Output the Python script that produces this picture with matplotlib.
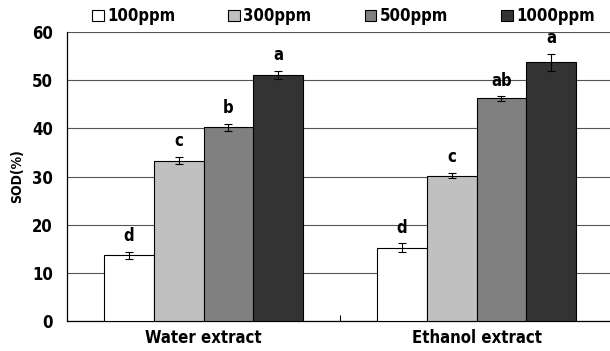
import numpy as np
import matplotlib.pyplot as plt
from matplotlib.ticker import FixedLocator

plt.rcParams['font.family'] = ['DejaVu Sans']
plt.rcParams['font.stretch'] = 'condensed'
plt.rcParams['font.weight'] = 'bold'

groups = ["Water extract", "Ethanol extract"]
series = ["100ppm", "300ppm", "500ppm", "1000ppm"]
values = [
    [13.6, 15.2],
    [33.3, 30.2],
    [40.2, 46.2],
    [51.1, 53.7],
]
errors = [
    [0.7, 0.9],
    [0.7, 0.6],
    [0.8, 0.45],
    [0.85, 1.8],
]
letters = [
    ["d", "d"],
    ["c", "c"],
    ["b", "ab"],
    ["a", "a"],
]
colors = ["#ffffff", "#c0c0c0", "#808080", "#333333"]

fig = plt.figure(figsize=(6.1, 3.51), dpi=100)
ax = fig.add_axes([67 / 610, 30 / 351, 546 / 610, 289 / 351])

x = np.arange(len(groups))
width = 0.182
n = len(series)
for i, name in enumerate(series):
    pos = x + (i - (n - 1) / 2) * width
    ax.bar(pos, values[i], width, color=colors[i], edgecolor="black",
           linewidth=0.8, label=name, zorder=3)
    ax.errorbar(pos, values[i], yerr=errors[i], fmt="none", ecolor="black",
                elinewidth=0.8, capsize=3, capthick=0.8, zorder=4)
    for xp, v, e, t in zip(pos, values[i], errors[i], letters[i]):
        ax.text(xp, v + e + 1.4, t, ha="center", va="bottom",
                fontsize=12, fontweight="bold")

ax.set_xlim(-0.5, 1.5)
ax.set_ylim(0, 60)
ax.set_yticks(np.arange(0, 61, 10))
ax.yaxis.grid(True, color="#555555", linewidth=0.8, zorder=0)
ax.set_axisbelow(True)
ax.tick_params(axis="y", length=0, labelsize=12, pad=10)
ax.set_xticks(x)
ax.set_xticklabels(groups, fontsize=12, fontweight="bold")
ax.tick_params(axis="x", length=0, pad=6)
ax.xaxis.set_minor_locator(FixedLocator([0.5]))
ax.tick_params(axis="x", which="minor", direction="in", length=4, width=0.8)
for lbl in ax.get_yticklabels():
    lbl.set_fontweight("bold")

ax.spines["top"].set_visible(False)
ax.spines["right"].set_visible(False)
ax.spines["left"].set_linewidth(0.9)
ax.spines["bottom"].set_linewidth(0.9)

ax.set_ylabel("SOD(%)", fontsize=10, fontweight="bold", labelpad=6)

fig.legend(loc="center", bbox_to_anchor=(0.563, 0.953), ncol=4, frameon=False,
           fontsize=12, handlelength=0.7, handleheight=0.7, handletextpad=0.2,
           columnspacing=3.2, borderaxespad=0)

fig.savefig("out.png", dpi=100)
